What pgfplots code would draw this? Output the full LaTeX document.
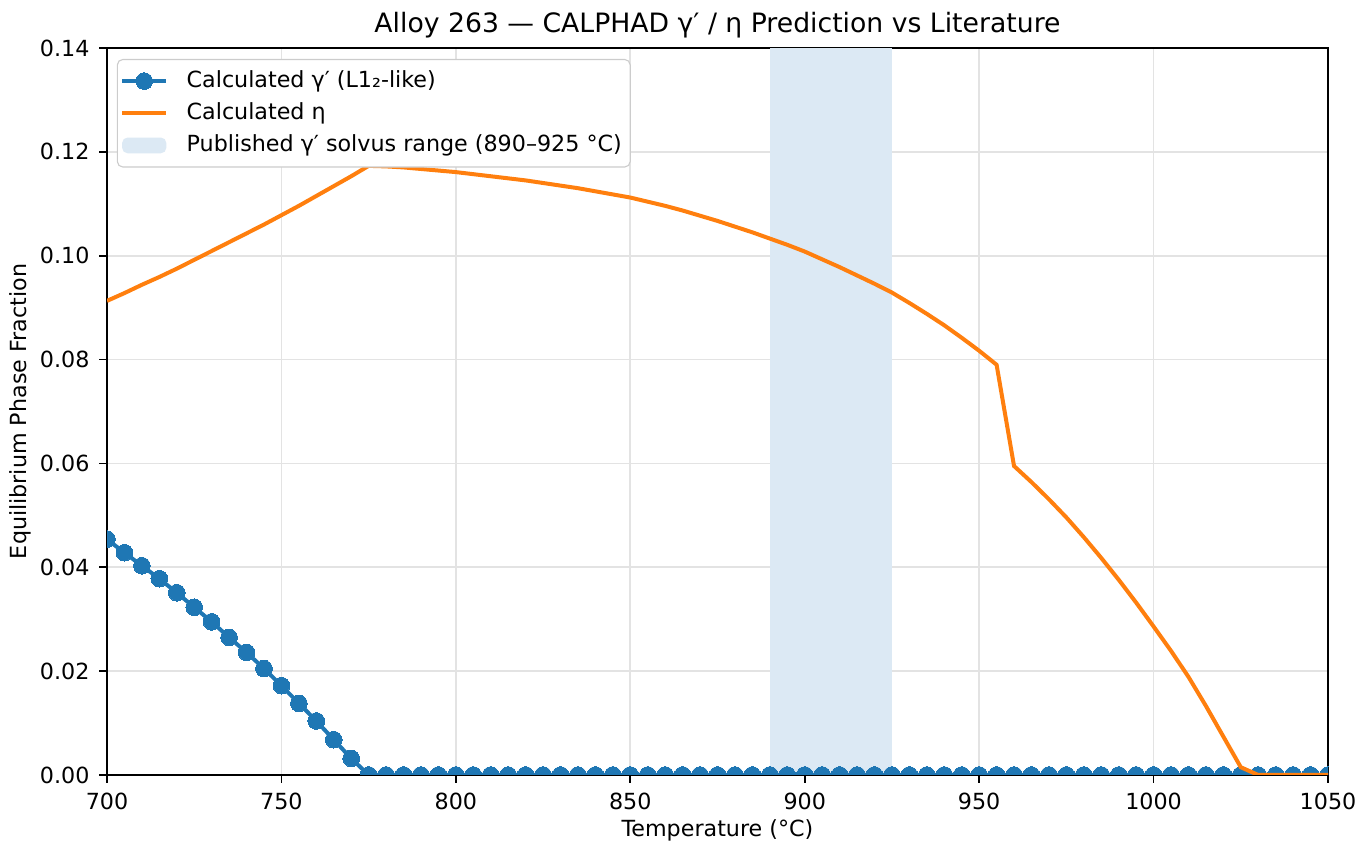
\documentclass[border=0pt]{standalone}
\usepackage{pgfplots}
\pgfplotsset{compat=1.18}
\usepackage{pgfplotstable}
\usepackage{fontspec}
\setmainfont{DejaVu Sans}
\definecolor{mblue}{HTML}{1F77B4}
\definecolor{morange}{HTML}{FF7F0E}
\definecolor{mshade}{HTML}{DCE9F4}
\pgfplotstableread{
T g
700 0.0454
705 0.0428
710 0.0403
715 0.0378
720 0.0351
725 0.0323
730 0.0295
735 0.0265
740 0.0236
745 0.0205
750 0.0172
755 0.0138
760 0.0104
765 0.0068
770 0.0032
775 0
780 0
785 0
790 0
795 0
800 0
805 0
810 0
815 0
820 0
825 0
830 0
835 0
840 0
845 0
850 0
855 0
860 0
865 0
870 0
875 0
880 0
885 0
890 0
895 0
900 0
905 0
910 0
915 0
920 0
925 0
930 0
935 0
940 0
945 0
950 0
955 0
960 0
965 0
970 0
975 0
980 0
985 0
990 0
995 0
1000 0
1005 0
1010 0
1015 0
1020 0
1025 0
1030 0
1035 0
1040 0
1045 0
1050 0
}\gammatab
\pgfplotstableread{
T e
700 0.0913
705 0.0928
710 0.0944
715 0.0959
720 0.0975
725 0.0992
730 0.1009
735 0.1026
740 0.1043
745 0.1060
750 0.1078
755 0.1096
760 0.1115
765 0.1134
770 0.1153
775 0.1173
780 0.1172
785 0.1170
790 0.1167
795 0.1164
800 0.1161
805 0.1157
810 0.1153
815 0.1149
820 0.1145
825 0.1140
830 0.1135
835 0.1130
840 0.1124
845 0.1118
850 0.1112
855 0.1104
860 0.1096
865 0.1087
870 0.1077
875 0.1067
880 0.1056
885 0.1045
890 0.1033
895 0.1021
900 0.1008
905 0.0993
910 0.0978
915 0.0962
920 0.0946
925 0.0929
930 0.0909
935 0.0888
940 0.0866
945 0.0842
950 0.0817
955 0.0790
960 0.0595
965 0.0564
970 0.0531
975 0.0496
980 0.0458
985 0.0418
990 0.0376
995 0.0332
1000 0.0286
1005 0.0239
1010 0.0189
1015 0.0133
1020 0.0074
1025 0.0015
1030 0
1035 0
1040 0
1045 0
1050 0
}\etatab
\begin{document}
\begin{tikzpicture}
\useasboundingbox (-38.52pt,-30.6pt) rectangle (453.24pt,279pt);
\begin{axis}[
  at={(0,0)}, anchor=south west,
  scale only axis,
  width=439.56pt, height=261.72pt,
  xmin=700, xmax=1050, ymin=0, ymax=0.14,
  xtick={700,750,...,1050},
  ytick={0,0.02,...,0.14},
  yticklabel style={/pgf/number format/.cd, fixed, fixed zerofill, precision=2},
  xticklabel style={/pgf/number format/.cd, fixed, 1000 sep={}},
  /pgf/number format/assume math mode=true,
  tick label style={font=\fontsize{8}{10}\selectfont, text=black},
  label style={font=\fontsize{8}{10}\selectfont},
  title style={font=\fontsize{9.6}{11.5}\selectfont, at={(axis description cs:0.5,1)}, anchor=base, yshift=-0.4pt},
  title={Alloy 263 — CALPHAD γ′ / η Prediction vs Literature},
  xlabel={Temperature (°C)},
  ylabel={Equilibrium Phase Fraction},
  xlabel style={at={(axis description cs:0.5,-0.0757)}, anchor=center},
  ylabel style={at={(axis description cs:-0.0712,0.5)}, anchor=center, rotate=0},
  tick align=outside,
  tick pos=left,
  major tick length=2.8pt,
  every tick/.style={black, line width=0.64pt},
  axis line style={line width=0.64pt},
  grid=major,
  major grid style={black!11, line width=0.64pt},
  clip mode=individual,
  clip marker paths=true,
  legend cell align=left,
  legend style={font=\fontsize{8}{10}\selectfont, draw=black!20, rounded corners=2pt, fill=white, inner xsep=1pt, inner ysep=2pt, row sep=0pt, at={(0.008,0.985)}, anchor=north west, /tikz/every odd column/.append style={column sep=4.6pt}},
  legend image code/.code={\draw[mark repeat=2, mark phase=2, #1] plot coordinates {(0cm,0cm) (0.28cm,0cm) (0.56cm,0cm)};},
]
\addplot[fill=mshade, draw=none, forget plot] coordinates {(890,0) (890,0.14) (925,0.14) (925,0)} -- cycle;
\addplot[mblue, line width=1.44pt, mark=*, mark size=3pt, mark options={fill=mblue, draw=mblue, line width=0pt}] table[x=T, y=g] {\gammatab};
\addlegendentry{Calculated γ′ (L1₂-like)}
\addplot[morange, line width=1.44pt] table[x=T, y=e] {\etatab};
\addlegendentry{Calculated η}
\addlegendimage{area legend, fill=mshade, draw=none, legend image code/.code={\fill[mshade] (0cm,-0.1cm) rectangle (0.56cm,0.1cm);}}
\addlegendentry{Published γ′ solvus range (890–925 °C)}
\end{axis}
\end{tikzpicture}
\end{document}
